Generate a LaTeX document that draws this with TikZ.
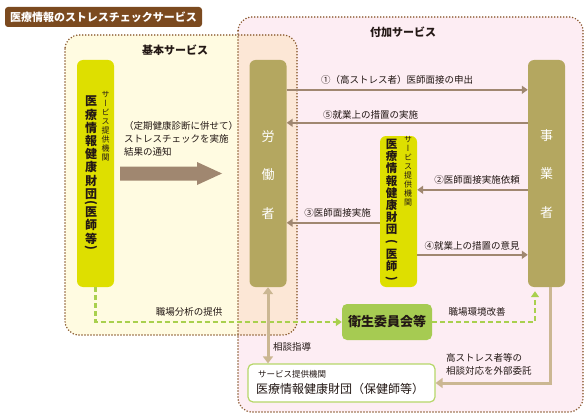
\documentclass[tikz,border=0pt]{standalone}
\usepackage{fontspec}
\usepackage{graphicx}
\setmainfont{Noto Sans CJK JP}
\newfontfamily\vfont[RawFeature=+vert]{Noto Sans CJK JP}
\usetikzlibrary{arrows.meta,calc}
\definecolor{titlec}{HTML}{7B4A1F}
\definecolor{basicbg}{HTML}{FFFBE1}
\definecolor{pinkbg}{HTML}{FDEDF3}
\definecolor{overlapbg}{HTML}{FCE7D6}
\definecolor{dotc}{HTML}{8A5A30}
\definecolor{olive}{HTML}{B4A760}
\definecolor{yel}{HTML}{DEDF00}
\definecolor{arrc}{HTML}{A08770}
\definecolor{grn}{HTML}{A9D04E}
\definecolor{grnbox}{HTML}{A6CB52}
\definecolor{tan}{HTML}{CBB792}
\definecolor{txt}{HTML}{231815}
\newcommand{\vopen}{\raisebox{0.54em}{\rotatebox{-90}{(}}}
\newcommand{\vclose}{\raisebox{0.54em}{\rotatebox{-90}{)}}}
\begin{document}
\begin{tikzpicture}[x=1pt,y=-1pt,
  dotbox/.style={draw=dotc, line width=1.7pt, dash pattern=on 0pt off 3pt, line cap=round, rounded corners=14pt},
  olivebox/.style={fill=olive, rounded corners=6pt, minimum width=37pt, minimum height=227pt, inner sep=0pt},
  yelbox/.style={fill=yel, rounded corners=6pt, minimum width=37pt, inner sep=0pt},
  arr/.style={draw=arrc, line width=2pt, -{Triangle[length=6pt,width=8pt]}},
  gdash/.style={draw=grn, line width=2.5pt, dash pattern=on 5pt off 3pt, -{Triangle[length=6pt,width=8pt]}},
  tanarr/.style={draw=tan, line width=3pt, -{Triangle[length=7pt,width=10pt]}},
  lbl/.style={font=\fontsize{9.5}{13}\selectfont, text=txt, inner sep=0pt},
  wtxt/.style={font=\fontsize{13}{38.5}\selectfont, text=white, align=center, inner sep=0pt},
  bigv/.style={font=\vfont\bfseries\fontsize{12}{13.2}\selectfont, text=txt, align=center, inner sep=0pt, anchor=north},
  smallv/.style={font=\vfont\fontsize{8}{9}\selectfont, text=txt, align=center, inner sep=0pt, anchor=north},
]
\useasboundingbox (0,0) rectangle (587,420);
% backgrounds
\fill[pinkbg, rounded corners=14pt] (238,17) rectangle (583,412);
\fill[basicbg, rounded corners=14pt] (65,35) rectangle (297,335);
\begin{scope}
  \clip[rounded corners=14pt] (65,35) rectangle (297,335);
  \fill[overlapbg, rounded corners=14pt] (238,17) rectangle (583,412);
\end{scope}
\draw[dotbox] (238,17) rectangle (583,412);
\draw[dotbox] (65,35) rectangle (297,335);

% title
\node[fill=titlec, rounded corners=3pt, text=white, font=\bfseries\fontsize{11}{13}\selectfont, minimum width=197pt, minimum height=20pt, inner sep=0pt] (title) at (103.5,17) {医療情報のストレスチェックサービス};
\node[font=\bfseries\fontsize{11}{13}\selectfont, text=txt, inner sep=0pt] (basic) at (175,50) {基本サービス};
\node[font=\bfseries\fontsize{11}{13}\selectfont, text=txt, inner sep=0pt] (addl) at (403,32) {付加サービス};

% main boxes
\node[olivebox] (worker) at (268,173.5) {};
\node[wtxt] (workertxt) at (268,175) {労\\働\\者};
\node[olivebox] (employer) at (546.5,173.5) {};
\node[wtxt] (employertxt) at (546.5,174) {事\\業\\者};

\node[yelbox, minimum height=227pt] (kenpo) at (95.5,173.5) {};
\node[bigv] (kenpobig) at (91,96) {医\\療\\情\\報\\健\\康\\財\\団\\[-5pt]\vopen\\[-3pt]医\\師\\等\\[-4pt]\vclose};
\node[smallv] (kenposmall) at (105.5,91) {サ\\ー\\ビ\\ス\\提\\供\\機\\関};

\node[yelbox, minimum height=151pt] (mid) at (398.5,211.5) {};
\node[bigv, font=\vfont\bfseries\fontsize{11.5}{12.2}\selectfont] (midbig) at (391.5,139) {医\\療\\情\\報\\健\\康\\財\\団\\\vopen\\医\\師\\\vclose};
\node[smallv] (midsmall) at (408,136) {サ\\ー\\ビ\\ス\\提\\供\\機\\関};

% big arrow
\fill[arrc] (120,166.5) -- (197,166.5) -- (197,162) -- (222,173.5) -- (197,185) -- (197,180.5) -- (120,180.5) -- cycle;
\node[lbl, align=left, anchor=north west] (checktxt) at (124,121.5) {（定期健康診断に併せて）\\ストレスチェックを実施\\結果の通知};

% arrows between worker, mid, employer
\draw[arr] ($(worker.north east)+(0,30)$) -- ($(employer.north west)+(0,30)$);
\node[lbl] (l1) at (397,80) {①（高ストレス者）医師面接の申出};
\draw[arr] ($(employer.north west)+(0,63)$) -- ($(worker.north east)+(0,63)$);
\node[lbl, anchor=west] (l5) at (323,115) {⑤就業上の措置の実施};
\draw[arr] ($(employer.north west)+(0,130)$) -- ($(mid.north east)+(0,54)$);
\node[lbl] (l2) at (477,180) {②医師面接実施依頼};
\draw[arr] ($(mid.north west)+(0,87)$) -- ($(worker.north east)+(0,163)$);
\node[lbl] (l3) at (337.5,213) {③医師面接実施};
\draw[arr] ($(mid.north east)+(0,119)$) -- ($(employer.north west)+(0,195)$);
\node[lbl] (l4) at (472,246) {④就業上の措置の意見};

% eisei
\node[fill=grnbox, rounded corners=5pt, minimum width=90pt, minimum height=36pt, inner sep=0pt, font=\bfseries\fontsize{13}{15}\selectfont, text=txt] (eisei) at (387,322) {衛生委員会等};
\draw[gdash] (kenpo.south) |- (eisei.west);
\node[lbl] (lshoku) at (189,312) {職場分析の提供};
\coordinate (envup) at ($(employer.south)+(-11.5,4)$);
\draw[gdash] (eisei.east) -| (envup);
\node[lbl] (lkankyo) at (477,312) {職場環境改善};

% bottom box
\node[draw=grn!85, line width=1.2pt, fill=white, rounded corners=5pt, minimum width=187pt, minimum height=38pt, inner sep=0pt] (hoken) at (341.5,383) {};
\node[font=\fontsize{8.5}{10}\selectfont, text=txt, anchor=west, inner sep=0pt] (hokensmall) at (258,374) {サービス提供機関};
\node[font=\fontsize{12}{14}\selectfont, text=txt, anchor=west, inner sep=0pt] (hokenbig) at (256,389) {医療情報健康財団（保健師等）};

\draw[tan, line width=3pt, {Triangle[length=7pt,width=10pt]}-{Triangle[length=7pt,width=10pt]}] (worker.south) -- (worker.south |- hoken.north);
\node[lbl, anchor=west] (lsoudan) at (273,347) {相談指導};

\coordinate (empdown) at ($(employer.south)+(3.5,0)$);
\draw[tanarr] (empdown) |- (hoken.east);
\node[lbl, align=left, anchor=west] (litaku) at (446,364) {高ストレス者等の\\相談対応を外部委託};
\end{tikzpicture}
\end{document}
